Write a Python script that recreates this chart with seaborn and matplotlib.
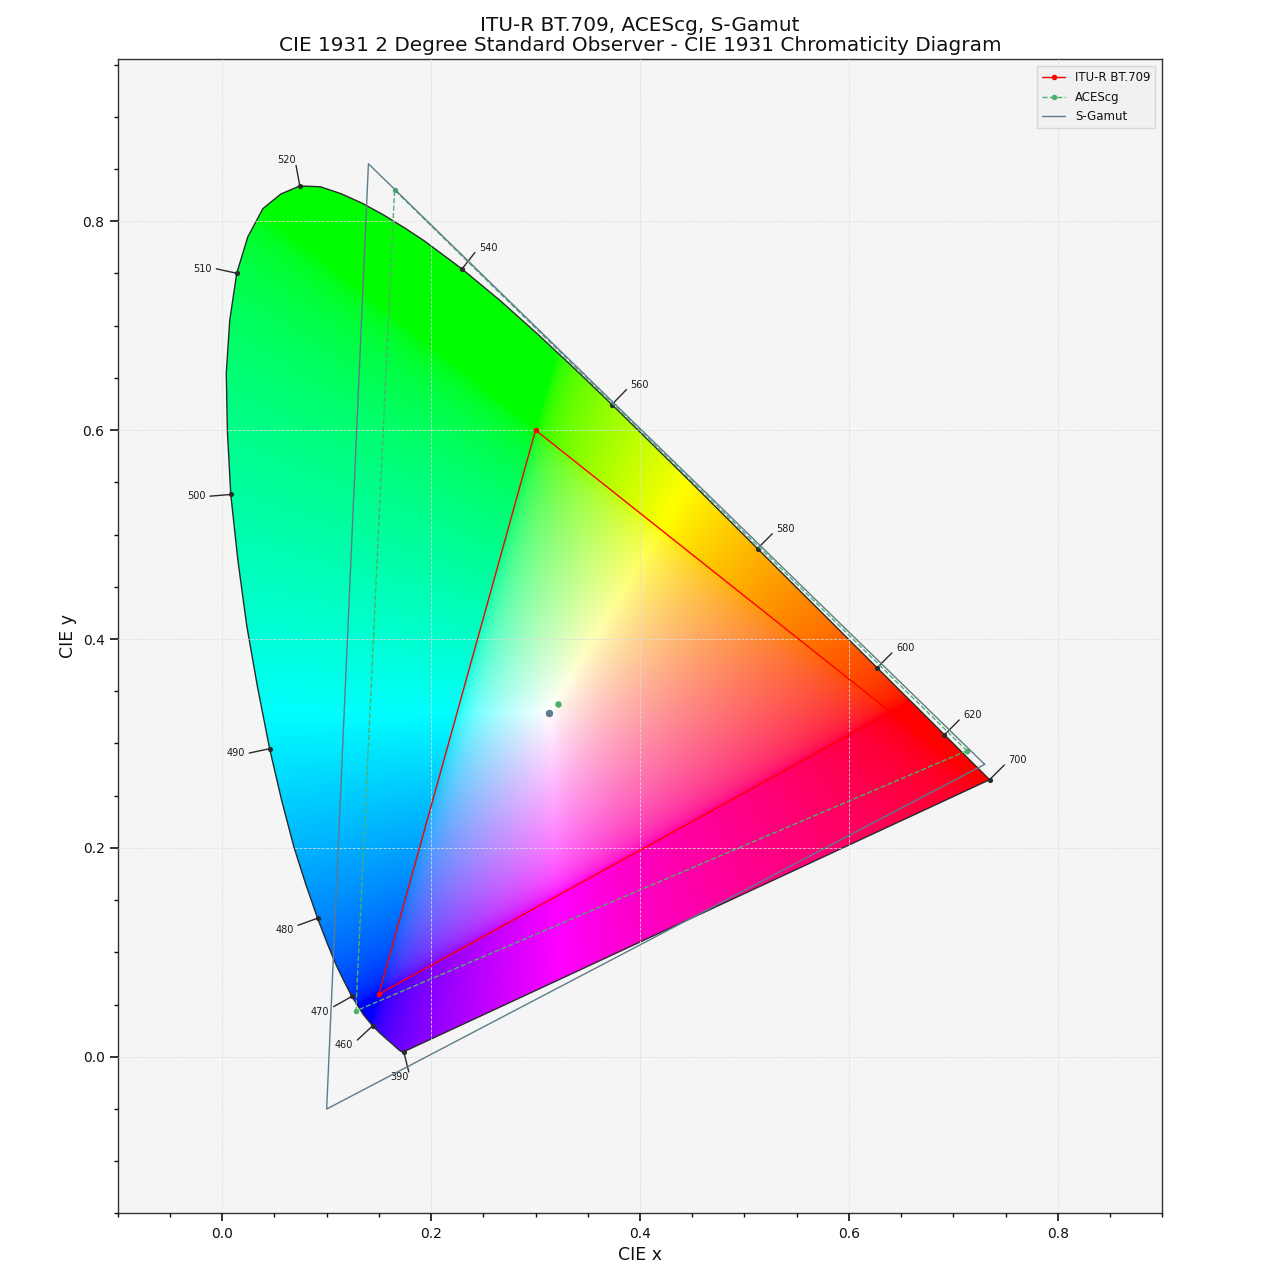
import numpy as np
import pandas as pd
import seaborn as sns
import matplotlib
matplotlib.use("Agg")
import matplotlib.pyplot as plt
from matplotlib.patches import Polygon

# CIE 1931 2 degree spectral locus (5 nm steps, 2.5 nm where the curve bends fast)
wavelengths = [380, 385, 390, 395, 400, 405, 410, 415, 420, 425, 430, 435, 440, 445, 450, 455,
               460, 462.5, 465, 467.5, 470, 472.5, 475, 477.5, 480, 482.5, 485, 487.5, 490, 492.5,
               495, 497.5, 500, 502.5, 505, 507.5, 510, 512.5, 515, 517.5, 520, 522.5, 525, 527.5,
               530, 532.5, 535, 540, 545, 550, 555, 560, 565, 570, 575, 580, 585, 590, 595, 600,
               605, 610, 615, 620, 625, 630, 635, 640, 645, 650, 655, 660, 665, 670, 675, 680,
               685, 690, 695, 700]
locus_x = [0.1741, 0.1740, 0.1738, 0.1736, 0.1733, 0.1730, 0.1726, 0.1721, 0.1714, 0.1703,
           0.1689, 0.1669, 0.1644, 0.1611, 0.1566, 0.1510,
           0.1440, 0.1400, 0.1355, 0.1302, 0.1241, 0.1172, 0.1096, 0.1006, 0.0913, 0.0801,
           0.0687, 0.0568, 0.0454, 0.0340, 0.0235, 0.0150, 0.0082, 0.0050, 0.0039, 0.0072,
           0.0139, 0.0245, 0.0389, 0.0560, 0.0743, 0.0940, 0.1142, 0.1345, 0.1547, 0.1740,
           0.1929, 0.2296, 0.2658, 0.3016, 0.3373, 0.3731, 0.4087, 0.4441, 0.4788, 0.5125,
           0.5448, 0.5752, 0.6029, 0.6270, 0.6482, 0.6658, 0.6801, 0.6915, 0.7006, 0.7079,
           0.7140, 0.7190, 0.7230, 0.7260, 0.7283, 0.7300, 0.7311, 0.7320, 0.7327, 0.7334,
           0.7340, 0.7344, 0.7346, 0.7347]
locus_y = [0.0050, 0.0050, 0.0049, 0.0049, 0.0048, 0.0048, 0.0048, 0.0048, 0.0051, 0.0058,
           0.0069, 0.0086, 0.0109, 0.0138, 0.0177, 0.0227,
           0.0297, 0.0345, 0.0399, 0.0481, 0.0578, 0.0713, 0.0868, 0.1085, 0.1327, 0.1650,
           0.2007, 0.2460, 0.2950, 0.3530, 0.4127, 0.4755, 0.5384, 0.5980, 0.6548, 0.7050,
           0.7502, 0.7850, 0.8120, 0.8260, 0.8338, 0.8330, 0.8262, 0.8170, 0.8059, 0.7940,
           0.7816, 0.7543, 0.7243, 0.6923, 0.6589, 0.6245, 0.5896, 0.5547, 0.5202, 0.4866,
           0.4544, 0.4242, 0.3965, 0.3725, 0.3514, 0.3340, 0.3197, 0.3083, 0.2993, 0.2920,
           0.2859, 0.2809, 0.2770, 0.2740, 0.2717, 0.2700, 0.2689, 0.2680, 0.2673, 0.2666,
           0.2660, 0.2656, 0.2654, 0.2653]
labelled_wl = [390, 460, 470, 480, 490, 500, 510, 520, 540, 560, 580, 600, 620, 700]

# colourspaces: R, G, B primaries and whitepoint
gamut_names = ["ITU-R BT.709", "ACEScg", "S-Gamut"]
gamut_x = [[0.640, 0.300, 0.150], [0.713, 0.165, 0.128], [0.730, 0.140, 0.100]]
gamut_y = [[0.330, 0.600, 0.060], [0.293, 0.830, 0.044], [0.280, 0.855, -0.050]]
white_x = [0.3127, 0.32168, 0.3127]
white_y = [0.3290, 0.33767, 0.3290]
gamut_colors = ["#ff0000", "#4fb06e", "#5d7b8c"]
gamut_styles = ["-", "--", "-"]
gamut_markers = ["o", "o", None]

sns.set_theme(style="ticks", rc={"axes.facecolor": "#f5f5f5", "axes.edgecolor": "#333333",
                                 "text.color": "#111111", "axes.labelcolor": "#111111",
                                 "xtick.color": "#111111", "ytick.color": "#111111"})
plt.rcParams["font.family"] = ["DejaVu Sans"]

fig = plt.figure(figsize=(12.8, 12.8), dpi=100)
ax = fig.add_axes([0.092, 0.0516, 0.816, 0.9024])

xmin, xmax, ymin, ymax = -0.1, 0.9, -0.15, 0.955

# chromaticity colours
n = 900
gx, gy = np.meshgrid(np.linspace(xmin, xmax, n), np.linspace(ymin, ymax, n))
gy_safe = np.where(np.abs(gy) < 1e-4, 1e-4, gy)
XYZ = np.stack([gx / gy_safe, np.ones_like(gx), (1 - gx - gy) / gy_safe], axis=-1)
M = np.array([[3.2406, -1.5372, -0.4986],
              [-0.9689, 1.8758, 0.0415],
              [0.0557, -0.2040, 1.0570]])
RGB = XYZ @ M.T
RGB = RGB / np.max(RGB, axis=-1, keepdims=True)
RGB = np.clip(RGB, 0, 1)
RGB = np.where(RGB <= 0.0031308, 12.92 * RGB, 1.055 * RGB ** (1 / 2.4) - 0.055)

poly = np.column_stack([locus_x, locus_y])
patch = Polygon(poly, closed=True, facecolor="none", edgecolor="#2b2b2b", lw=1.0,
                joinstyle="round", zorder=2)
im = ax.imshow(RGB, origin="lower", extent=[xmin, xmax, ymin, ymax], interpolation="bilinear",
               zorder=1, aspect="equal")
ax.add_patch(patch)
im.set_clip_path(patch)

# wavelength labels
locus_df = pd.DataFrame({"wl": wavelengths, "x": locus_x, "y": locus_y})
for wl in labelled_wl:
    i = wavelengths.index(wl)
    i0, i1 = max(i - 1, 0), min(i + 1, len(wavelengths) - 1)
    dx = locus_x[i1] - locus_x[i0]
    dy = locus_y[i1] - locus_y[i0]
    nrm = np.array([dy, -dx])
    nrm = nrm / np.linalg.norm(nrm)
    px, py = locus_x[i], locus_y[i]
    if np.dot(nrm, [px - 1 / 3, py - 1 / 3]) < 0:
        nrm = -nrm
    ex, ey = px + nrm[0] * 0.02, py + nrm[1] * 0.02
    ax.plot([px, ex], [py, ey], color="#2b2b2b", lw=1.0, zorder=3)
    if abs(nrm[0]) < 0.3:
        ha, tx = "right", ex
    else:
        ha = "left" if nrm[0] >= 0 else "right"
        tx = ex + np.sign(nrm[0]) * 0.004
    va = "bottom" if nrm[1] > 0.3 else ("top" if nrm[1] < -0.3 else "center")
    ax.text(tx, ey, str(wl), fontsize=7, ha=ha, va=va, color="#1a1a1a", zorder=3)
sel = locus_df[locus_df["wl"].isin(labelled_wl)]
ax.scatter(sel["x"], sel["y"], s=14, color="#2b2b2b", zorder=4, linewidths=0)

# gamuts
for k, name in enumerate(gamut_names):
    tri = pd.DataFrame({"x": gamut_x[k] + [gamut_x[k][0]], "y": gamut_y[k] + [gamut_y[k][0]]})
    sns.lineplot(data=tri, x="x", y="y", sort=False, estimator=None, ax=ax, color=gamut_colors[k],
                 linestyle=gamut_styles[k], lw=1.0, marker=gamut_markers[k], markersize=4,
                 markeredgewidth=0, label=name, zorder=5)
    ax.scatter([white_x[k]], [white_y[k]], s=22 if k < 2 else 28, color=gamut_colors[k],
               zorder=6, linewidths=0)

ax.set_xlim(xmin, xmax)
ax.set_ylim(ymin, ymax)
ax.set_aspect("equal")
ax.set_xticks(np.arange(0, 0.81, 0.2))
ax.set_yticks(np.arange(0, 0.81, 0.2))
ax.set_xticks(np.arange(-0.1, 0.901, 0.05), minor=True)
ax.set_yticks(np.arange(-0.15, 0.951, 0.05), minor=True)
ax.tick_params(which="major", length=6, width=1.2, labelsize=10)
ax.tick_params(which="minor", length=3, width=1.0)
ax.grid(True, which="major", linestyle="--", linewidth=0.6, color="#dedede", alpha=0.9, zorder=7)
ax.set_axisbelow(False)
for s in ax.spines.values():
    s.set_visible(True)
    s.set_linewidth(1.0)

ax.set_xlabel("CIE x", fontsize=12.5)
ax.set_ylabel("CIE y", fontsize=12.5)
ax.set_title("ITU-R BT.709, ACEScg, S-Gamut\nCIE 1931 2 Degree Standard Observer - CIE 1931 Chromaticity Diagram",
             fontsize=14.4, linespacing=1.1)
leg = ax.legend(loc="upper right", fontsize=8.5, frameon=True, fancybox=False,
                borderaxespad=0.6, labelspacing=0.55)
leg.get_frame().set_facecolor("#f0f0f0")
leg.get_frame().set_edgecolor("#d0d0d0")

fig.savefig("out.png", dpi=100)
